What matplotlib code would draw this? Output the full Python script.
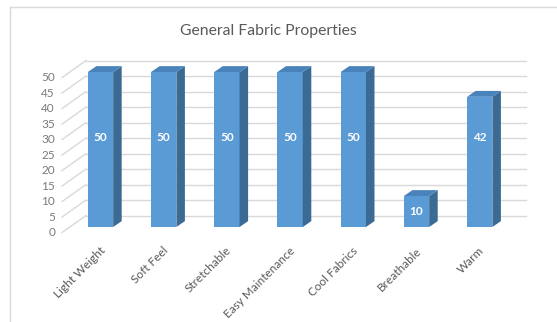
import numpy as np
import matplotlib
matplotlib.use("Agg")
import matplotlib.pyplot as plt
from matplotlib.patches import Polygon
from matplotlib.lines import Line2D

# chart data
categories = ["Light Weight", "Soft Feel", "Stretchable", "Easy Maintenance",
              "Cool Fabrics", "Breathable", "Warm"]
values = [50, 50, 50, 50, 50, 10, 42]
yticks = [0, 5, 10, 15, 20, 25, 30, 35, 40, 45, 50]
title = "General Fabric Properties"

plt.rcParams['font.family'] = ['Lato', 'DejaVu Sans']

front_col = "#5b9bd5"
side_col = "#3b6a95"
top_col = "#4a82bb"
grid_col = "#d9d9d9"
text_col = "#595959"
tick_col = "#7a7a7a"

fig = plt.figure(figsize=(5.57, 3.22), dpi=100)
ax = fig.add_axes([0.0670, 0.2565, 0.8964, 0.5680])
ax.set_xlim(-1.0, 6.9)
ax.set_ylim(-4, 55)
ax.axis("off")

# outer chart frame (only top and left edges visible)
fig.add_artist(Line2D([10/557, 10/557], [0, 1 - 7/322], color=grid_col, lw=1))
fig.add_artist(Line2D([10/557, 1], [1 - 7/322, 1 - 7/322], color=grid_col, lw=1))

# 3d offsets (data units)
bar_w = 0.40
dep_x = 0.135
dep_y = 1.9
wall_left = -0.23
wall_right = 6.73
wall_dy = 3.7
side_left = -0.61
label_dy = -1.8

# back wall gridlines + left wall diagonals
for t in yticks:
    ax.plot([wall_left, wall_right], [t + wall_dy, t + wall_dy], color=grid_col, lw=1, zorder=1)
    ax.plot([side_left, wall_left], [t + label_dy, t + wall_dy], color=grid_col, lw=1, zorder=1)
    ax.text(-0.72, t + label_dy, str(t), ha="right", va="center", fontsize=8.5, color=tick_col)

x = np.arange(len(categories))
ax.bar(x, values, width=bar_w, color=front_col, zorder=3)

for i, v in zip(x, values):
    r = i + bar_w / 2
    l = i - bar_w / 2
    side = Polygon([(r, 0), (r + dep_x, dep_y), (r + dep_x, v + dep_y), (r, v)],
                   closed=True, facecolor=side_col, edgecolor="none", zorder=3)
    top = Polygon([(l, v), (r, v), (r + dep_x, v + dep_y), (l + dep_x, v + dep_y)],
                  closed=True, facecolor=top_col, edgecolor="none", zorder=3)
    ax.add_patch(side)
    ax.add_patch(top)
    lab_y = v / 2 if v < 20 else 29
    ax.text(i, lab_y, str(v), ha="center", va="center", color="white",
            fontsize=8.5, fontweight="bold", zorder=4)
    ax.text(i - 0.02, -5.8, categories[i], ha="right", va="top", rotation=45,
            rotation_mode="anchor", fontsize=8.5, color=text_col)

fig.text(0.481, 0.905, title, ha="center", va="center", fontsize=11.3, color=text_col)

fig.savefig("out.png", dpi=100)
